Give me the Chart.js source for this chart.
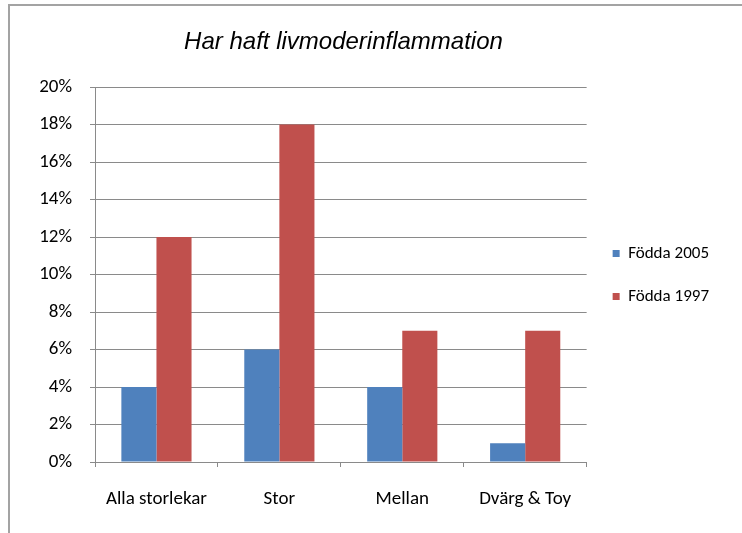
<!DOCTYPE html>
<html>
<head>
<meta charset="utf-8">
<script src="https://cdn.jsdelivr.net/npm/chart.js@4"></script>
<style>
html,body{margin:0;padding:0;background:#fff;}
#c{display:block;}
</style>
</head>
<body>
<canvas id="c" width="742" height="533"></canvas>
<script>
const categories = ["Alla storlekar", "Stor", "Mellan", "Dvärg & Toy"];
const fodda2005 = [4, 6, 4, 1];
const fodda1997 = [12, 18, 7, 7];
const seriesNames = ["Födda 2005", "Födda 1997"];
const chartTitle = "Har haft livmoderinflammation";
const yTicks = { min: 0, max: 20, step: 2 };

const FONT = "Carlito, Lato, 'Liberation Sans', sans-serif";
const GRID = "#8a8a8a";

const framePlugin = {
  id: 'frame',
  afterDraw(chart) {
    const ctx = chart.ctx;
    ctx.save();
    ctx.strokeStyle = '#a3a3a3';
    ctx.lineWidth = 2;
    ctx.beginPath();
    ctx.moveTo(9, 533);
    ctx.lineTo(9, 5);
    ctx.lineTo(742, 5);
    ctx.stroke();
    // chart title (real text)
    ctx.fillStyle = '#000';
    ctx.font = "italic 24px 'Liberation Sans', Arial, sans-serif";
    ctx.textAlign = 'center';
    ctx.textBaseline = 'middle';
    ctx.fillText(chartTitle, 343.5, 42);
    ctx.restore();
  }
};

new Chart(document.getElementById('c'), {
  type: 'bar',
  data: {
    labels: categories,
    datasets: [
      { label: seriesNames[0], data: fodda2005, backgroundColor: '#4F81BD', borderWidth: 0 },
      { label: seriesNames[1], data: fodda1997, backgroundColor: '#C0504D', borderWidth: 0 }
    ]
  },
  options: {
    responsive: false,
    devicePixelRatio: 1,
    animation: false,
    layout: { padding: { left: 0, right: 23, top: 87, bottom: 0 } },
    datasets: { bar: { categoryPercentage: 0.571, barPercentage: 1.0 } },
    plugins: {
      title: { display: false },
      legend: {
        position: 'right',
        align: 'start',
        title: { display: true, text: ' ', padding: 0, font: { family: FONT, size: 10, lineHeight: 13.2 } },
        labels: {
          boxWidth: 7,
          boxHeight: 7,
          padding: 26,
          color: '#000',
          font: { family: FONT, size: 17 }
        }
      },
      tooltip: { enabled: false }
    },
    scales: {
      x: {
        offset: true,
        grid: { display: true, offset: true, drawOnChartArea: false, drawTicks: true, tickLength: 5, color: GRID, lineWidth: 1 },
        border: { display: true, color: GRID, width: 1 },
        ticks: { color: '#000', padding: 21, font: { family: FONT, size: 19 }, maxRotation: 0 },
        afterFit(scale) { scale.height = 71; }
      },
      y: {
        min: yTicks.min,
        max: yTicks.max,
        grid: { color: GRID, lineWidth: 1, tickLength: 5 },
        border: { display: true, color: GRID, width: 1 },
        ticks: {
          stepSize: yTicks.step,
          color: '#000',
          padding: 18,
          font: { family: FONT, size: 19 },
          callback: v => v + '%'
        },
        afterFit(scale) { scale.width = 95; }
      }
    }
  },
  plugins: [framePlugin]
});
</script>
</body>
</html>
